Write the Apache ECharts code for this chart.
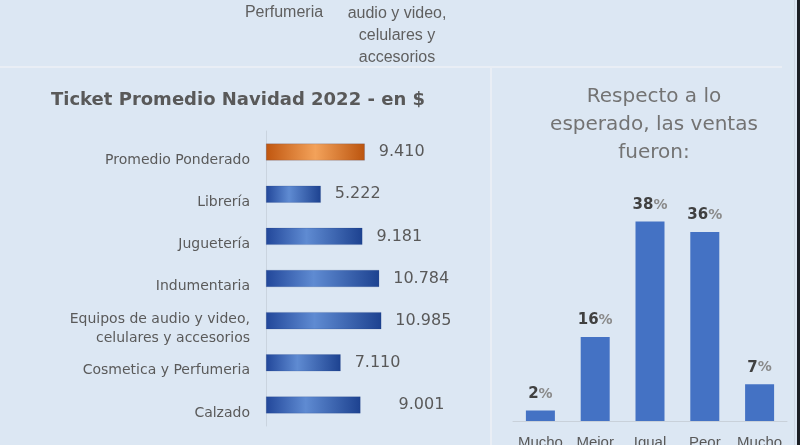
<!DOCTYPE html>
<html>
<head>
<meta charset="utf-8">
<script src="https://cdn.jsdelivr.net/npm/echarts@6/dist/echarts.min.js"></script>
<style>
html,body{margin:0;padding:0;background:#dce7f3;}
#c{width:800px;height:445px;}
</style>
</head>
<body>
<div id="c"></div>
<script>
// ---- data ----
var ticketCategories = ['Promedio Ponderado', 'Librería', 'Juguetería', 'Indumentaria',
  'Equipos de audio y video,\ncelulares y accesorios', 'Cosmetica y Perfumeria', 'Calzado'];
var ticketValues = [9410, 5222, 9181, 10784, 10985, 7110, 9001];
var ticketLabels = ['9.410', '5.222', '9.181', '10.784', '10.985', '7.110', '9.001'];

var ventasCategories = ['Mucho\nMejor', 'Mejor', 'Igual', 'Peor', 'Mucho\nPeor'];
var ventasValues = [2, 16, 38, 36, 7];

var leftTitle = 'Ticket Promedio Navidad 2022 - en $';
var rightTitle = 'Respecto a lo\nesperado, las ventas\nfueron:';

// ---- styles ----
var blueGrad = new echarts.graphic.LinearGradient(0, 0, 1, 0, [
  {offset: 0, color: '#22479a'}, {offset: 0.42, color: '#5f8bd2'}, {offset: 1, color: '#1d4290'}]);
var orangeGrad = new echarts.graphic.LinearGradient(0, 0, 1, 0, [
  {offset: 0, color: '#c0560f'}, {offset: 0.5, color: '#f3a25a'}, {offset: 1, color: '#bb540e'}]);

var ticketData = ticketValues.map(function (v, i) {
  return {
    value: v,
    itemStyle: {color: i === 0 ? orangeGrad : blueGrad},
    label: {distance: i === 6 ? 38 : 14, formatter: ticketLabels[i]}
  };
});

var chart = echarts.init(document.getElementById('c'), null, {renderer: 'canvas'});
chart.setOption({
  backgroundColor: '#dce7f3',
  animation: false,
  title: [
    {text: leftTitle, left: 46, top: 86,
     textStyle: {fontFamily: 'DejaVu Sans', fontWeight: 'bold', fontSize: 18, color: '#595959'}},
    {text: rightTitle, left: 649, top: 78, textAlign: 'center',
     textStyle: {fontFamily: 'DejaVu Sans', fontWeight: 'normal', fontSize: 20, lineHeight: 28, color: '#737373'}}
  ],
  graphic: [
    {type: 'rect', shape: {x: 0, y: 66, width: 782, height: 2}, style: {fill: '#e9eef5'}, silent: true},
    {type: 'rect', shape: {x: 490, y: 67, width: 2, height: 378}, style: {fill: '#e9eef5'}, silent: true},
    {type: 'rect', shape: {x: 794, y: 0, width: 1, height: 445}, style: {fill: '#cfd8e3'}, silent: true},
    {type: 'rect', shape: {x: 797, y: 0, width: 3, height: 445}, style: {fill: '#1b1f24'}, silent: true},
    {type: 'text', x: 284, y: -20, style: {text: 'Cosmetica y\nPerfumeria', textAlign: 'center', textVerticalAlign: 'top',
      font: '16px "Liberation Sans", Arial, sans-serif', lineHeight: 22, fill: '#5f5f5f'}},
    {type: 'text', x: 397, y: -19, style: {text: 'Equipos de\naudio y video,\ncelulares y\naccesorios', textAlign: 'center', textVerticalAlign: 'top',
      font: '16px "Liberation Sans", Arial, sans-serif', lineHeight: 22, fill: '#5f5f5f'}}
  ],
  grid: [
    {left: 266, top: 131, width: 210, height: 295, outerBoundsMode: 'none', containLabel: false},
    {left: 513, top: 211, width: 274, height: 210, outerBoundsMode: 'none', containLabel: false}
  ],
  xAxis: [
    {gridIndex: 0, type: 'value', min: 0, max: 20000, show: false},
    {gridIndex: 1, type: 'category', data: ventasCategories,
     axisLine: {show: true, lineStyle: {color: '#c9d1da', width: 1}},
     axisTick: {show: false},
     axisLabel: {margin: 13, fontFamily: 'Liberation Sans', fontSize: 15, lineHeight: 18, color: '#595959', interval: 0}}
  ],
  yAxis: [
    {gridIndex: 0, type: 'category', data: ticketCategories, inverse: true,
     axisLine: {show: true, lineStyle: {color: '#cad4df', width: 1}},
     axisTick: {show: false},
     axisLabel: {margin: 16, fontFamily: 'DejaVu Sans', fontSize: 14, lineHeight: 19, color: '#5a5a5a',
       align: 'right', interval: 0,
       formatter: function (v) {
         return '{s| }\n' + v.split('\n').map(function (l) { return '{t|' + l + '}'; }).join('\n');
       },
       rich: {s: {lineHeight: 16, fontSize: 8},
              t: {fontFamily: 'DejaVu Sans', fontSize: 14, lineHeight: 19, color: '#5a5a5a'}}}},
    {gridIndex: 1, type: 'value', min: 0, max: 40, show: false}
  ],
  series: [
    {type: 'bar', xAxisIndex: 0, yAxisIndex: 0, data: ticketData, barWidth: 17,
     itemStyle: {borderColor: 'rgba(30,60,120,0.35)', borderWidth: 0.5},
     label: {show: true, position: 'right', fontFamily: 'DejaVu Sans', fontSize: 16, color: '#595959'}},
    {type: 'bar', xAxisIndex: 1, yAxisIndex: 1, data: ventasValues, barWidth: 29,
     itemStyle: {color: '#4472c4'},
     label: {show: true, position: 'top', distance: 9,
       formatter: function (p) { return '{n|' + p.value + '}{p|%}'; },
       rich: {n: {fontFamily: 'DejaVu Sans', fontWeight: 'bold', fontSize: 15, color: '#404040'},
              p: {fontFamily: 'DejaVu Sans', fontWeight: 'bold', fontSize: 14, color: '#8a8a8a'}}}}
  ]
});
</script>
</body>
</html>
